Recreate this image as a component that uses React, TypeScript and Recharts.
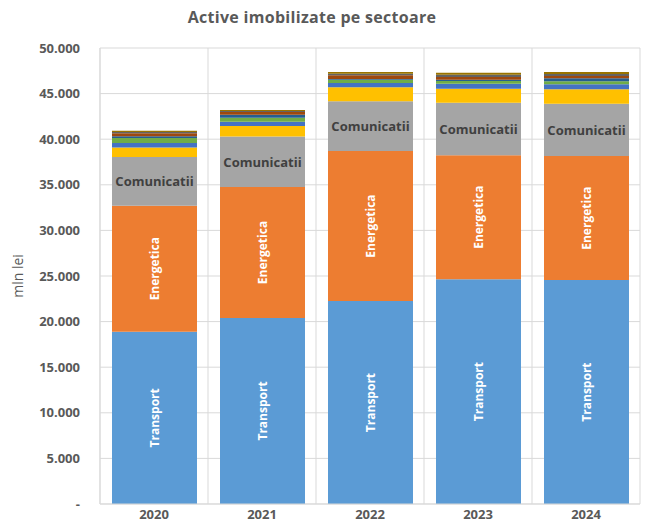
import { BarChart, Bar, XAxis, YAxis, CartesianGrid, LabelList } from 'recharts';

const years = ['2020', '2021', '2022', '2023', '2024'];
const transport = [18900, 20400, 22250, 24650, 24550];
const energetica = [13800, 14350, 16450, 13600, 13600];
const comunicatii = [5350, 5550, 5450, 5750, 5750];
const sector4 = [1050, 1140, 1535, 1535, 1570];
const sector5 = [480, 470, 470, 550, 550];
const sector6 = [550, 440, 365, 290, 330];
const sector7 = [180, 330, 80, 150, 330];
const sector8 = [330, 290, 400, 290, 250];
const sector9 = [150, 110, 180, 250, 220];
const sector10 = [150, 110, 180, 220, 220];
const yTicks = [0, 5000, 10000, 15000, 20000, 25000, 30000, 35000, 40000, 45000, 50000];

const data = years.map((year, i) => ({
  year,
  transport: transport[i],
  energetica: energetica[i],
  comunicatii: comunicatii[i],
  s4: sector4[i],
  s5: sector5[i],
  s6: sector6[i],
  s7: sector7[i],
  s8: sector8[i],
  s9: sector9[i],
  s10: sector10[i],
}));

const small = [
  { key: 's4', color: '#FFC000' },
  { key: 's5', color: '#4472C4' },
  { key: 's6', color: '#70AD47' },
  { key: 's7', color: '#255E91' },
  { key: 's8', color: '#9E480E' },
  { key: 's9', color: '#636363' },
  { key: 's10', color: '#997300' },
];

const font = '"Open Sans", sans-serif';

const fmt = (v: number) => (v === 0 ? '-' : String(v).replace(/\B(?=(\d{3})+(?!\d))/g, '.'));

const vertLabel = (text: string) => (props: any) => {
  const cx = Number(props.x) + Number(props.width) / 2;
  const cy = Number(props.y) + Number(props.height) / 2;
  return (
    <text
      x={cx}
      y={cy}
      transform={`rotate(-90, ${cx}, ${cy})`}
      textAnchor="middle"
      dominantBaseline="central"
      fill="#FFFFFF"
      fontFamily={font}
      fontWeight={700}
      fontSize={12}
    >
      {text}
    </text>
  );
};

const horizLabel = (text: string) => (props: any) => {
  const cx = Number(props.x) + Number(props.width) / 2;
  const cy = Number(props.y) + Number(props.height) / 2;
  return (
    <text
      x={cx}
      y={cy}
      textAnchor="middle"
      dominantBaseline="central"
      fill="#404040"
      fontFamily={font}
      fontWeight={700}
      fontSize={13}
    >
      {text}
    </text>
  );
};

export default function App() {
  return (
    <div style={{ position: 'absolute', left: 0, top: 0, width: 645, height: 525, background: '#fff' }}>
      <div
        style={{
          position: 'absolute',
          left: 0,
          top: 6,
          width: 624,
          textAlign: 'center',
          fontFamily: font,
          fontWeight: 700,
          fontSize: 16,
          letterSpacing: 0.3,
          color: '#595959',
        }}
      >
        Active imobilizate pe sectoare
      </div>
      <BarChart
        width={645}
        height={525}
        data={data}
        margin={{ top: 48, right: 5, bottom: 0, left: 0 }}
        barSize={85}
      >
        <CartesianGrid
          stroke="#D9D9D9"
          verticalCoordinatesGenerator={({ offset }: any) =>
            Array.from({ length: years.length + 1 }, (_, i) => offset.left + (i * offset.width) / years.length)
          }
        />
        <XAxis
          dataKey="year"
          height={21}
          tickLine={false}
          axisLine={{ stroke: '#D9D9D9' }}
          tickMargin={0}
          tick={{ fill: '#595959', fontFamily: font, fontWeight: 700, fontSize: 13 }}
        />
        <YAxis
          width={100}
          domain={[0, 50000]}
          ticks={yTicks}
          tickFormatter={fmt}
          tickLine={false}
          axisLine={{ stroke: '#D9D9D9' }}
          tickMargin={14}
          tick={{ fill: '#595959', fontFamily: font, fontWeight: 700, fontSize: 13 }}
          label={{
            value: 'mln lei',
            angle: -90,
            position: 'insideLeft',
            offset: 18,
            style: { fill: '#595959', fontFamily: font, fontSize: 14, textAnchor: 'middle' },
          }}
        />
        <Bar dataKey="transport" stackId="a" fill="#5B9BD5" isAnimationActive={false}>
          <LabelList dataKey="transport" content={vertLabel('Transport')} />
        </Bar>
        <Bar dataKey="energetica" stackId="a" fill="#ED7D31" isAnimationActive={false}>
          <LabelList dataKey="energetica" content={vertLabel('Energetica')} />
        </Bar>
        <Bar dataKey="comunicatii" stackId="a" fill="#A5A5A5" isAnimationActive={false}>
          <LabelList dataKey="comunicatii" content={horizLabel('Comunicatii')} />
        </Bar>
        {small.map((s) => (
          <Bar key={s.key} dataKey={s.key} stackId="a" fill={s.color} isAnimationActive={false} />
        ))}
      </BarChart>
    </div>
  );
}
